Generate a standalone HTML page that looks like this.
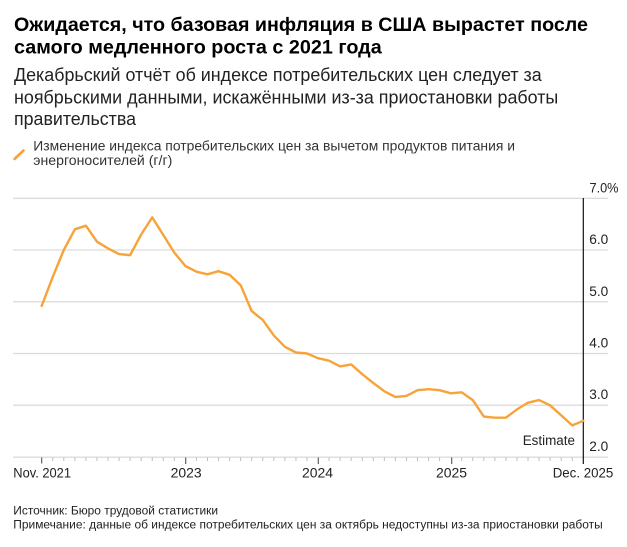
<!DOCTYPE html>
<html><head><meta charset="utf-8"><style>
html,body{margin:0;padding:0;background:#fff;}
svg{display:block;}
text{font-family:"Liberation Sans","Noto Sans CJK SC",sans-serif;}
</style></head><body>
<svg width="627" height="547" viewBox="0 0 627 547" xmlns="http://www.w3.org/2000/svg">
<rect width="627" height="547" fill="#fff"/>
<!-- Title -->
<text x="14" y="30.8" font-size="19.5" font-weight="bold" fill="#000" textLength="574" lengthAdjust="spacingAndGlyphs">Ожидается, что базовая инфляция в США вырастет после</text>
<text x="14" y="53.3" font-size="19.5" font-weight="bold" fill="#000" textLength="367.7" lengthAdjust="spacingAndGlyphs">самого медленного роста с 2021 года</text>
<!-- Subtitle -->
<text x="14" y="81" font-size="18" fill="#222" textLength="527.7" lengthAdjust="spacingAndGlyphs">Декабрьский отчёт об индексе потребительских цен следует за</text>
<text x="14" y="103.3" font-size="18" fill="#222" textLength="544.3" lengthAdjust="spacingAndGlyphs">ноябрьскими данными, искажёнными из-за приостановки работы</text>
<text x="14" y="125" font-size="18" fill="#222" textLength="122" lengthAdjust="spacingAndGlyphs">правительства</text>
<!-- Legend -->
<line x1="14.5" y1="159" x2="23.5" y2="150.5" stroke="#f7a33a" stroke-width="2.6" stroke-linecap="round"/>
<text x="33.3" y="150.7" font-size="13.5" fill="#333" textLength="481.7" lengthAdjust="spacingAndGlyphs">Изменение индекса потребительских цен за вычетом продуктов питания и</text>
<text x="33.3" y="165" font-size="13.5" fill="#333" textLength="139" lengthAdjust="spacingAndGlyphs">энергоносителей (г/г)</text>
<!-- Gridlines -->
<g stroke="#dcdcdc" stroke-width="1.3">
<line x1="13" y1="198.3" x2="608" y2="198.3"/>
<line x1="13" y1="250" x2="608" y2="250"/>
<line x1="13" y1="301.8" x2="608" y2="301.8"/>
<line x1="13" y1="353.5" x2="608" y2="353.5"/>
<line x1="13" y1="405.2" x2="608" y2="405.2"/>
<line x1="13" y1="457.2" x2="608" y2="457.2"/>
</g>
<!-- Y labels -->
<g font-size="13.5" fill="#222">
<text x="589.5" y="192.3" textLength="29" lengthAdjust="spacingAndGlyphs">7.0%</text>
<text x="589.3" y="244" textLength="19" lengthAdjust="spacingAndGlyphs">6.0</text>
<text x="589.3" y="295.8" textLength="19" lengthAdjust="spacingAndGlyphs">5.0</text>
<text x="589.3" y="347.5" textLength="19" lengthAdjust="spacingAndGlyphs">4.0</text>
<text x="589.3" y="399.2" textLength="19" lengthAdjust="spacingAndGlyphs">3.0</text>
<text x="589.3" y="450.8" textLength="19" lengthAdjust="spacingAndGlyphs">2.0</text>
</g>
<!-- Ticks -->
<g id="ticks" stroke="#bbb" stroke-width="1">
<line x1="52.75" y1="457.5" x2="52.75" y2="461"/><line x1="63.8" y1="457.5" x2="63.8" y2="461"/><line x1="74.86" y1="457.5" x2="74.86" y2="461"/><line x1="85.91" y1="457.5" x2="85.91" y2="461"/><line x1="96.97" y1="457.5" x2="96.97" y2="461"/><line x1="108.02" y1="457.5" x2="108.02" y2="461"/><line x1="119.07" y1="457.5" x2="119.07" y2="461"/><line x1="130.12" y1="457.5" x2="130.12" y2="461"/><line x1="141.18" y1="457.5" x2="141.18" y2="461"/><line x1="152.23" y1="457.5" x2="152.23" y2="461"/><line x1="163.28" y1="457.5" x2="163.28" y2="461"/><line x1="174.34" y1="457.5" x2="174.34" y2="461"/>
<line x1="196.44" y1="457.5" x2="196.44" y2="461"/><line x1="207.5" y1="457.5" x2="207.5" y2="461"/><line x1="218.55" y1="457.5" x2="218.55" y2="461"/><line x1="229.6" y1="457.5" x2="229.6" y2="461"/><line x1="240.65" y1="457.5" x2="240.65" y2="461"/><line x1="251.71" y1="457.5" x2="251.71" y2="461"/><line x1="262.76" y1="457.5" x2="262.76" y2="461"/><line x1="273.81" y1="457.5" x2="273.81" y2="461"/><line x1="284.87" y1="457.5" x2="284.87" y2="461"/><line x1="295.92" y1="457.5" x2="295.92" y2="461"/><line x1="306.97" y1="457.5" x2="306.97" y2="461"/>
<line x1="329.08" y1="457.5" x2="329.08" y2="461"/><line x1="340.13" y1="457.5" x2="340.13" y2="461"/><line x1="351.18" y1="457.5" x2="351.18" y2="461"/><line x1="362.24" y1="457.5" x2="362.24" y2="461"/><line x1="373.29" y1="457.5" x2="373.29" y2="461"/><line x1="384.34" y1="457.5" x2="384.34" y2="461"/><line x1="395.4" y1="457.5" x2="395.4" y2="461"/><line x1="406.45" y1="457.5" x2="406.45" y2="461"/><line x1="417.5" y1="457.5" x2="417.5" y2="461"/><line x1="428.56" y1="457.5" x2="428.56" y2="461"/><line x1="439.61" y1="457.5" x2="439.61" y2="461"/>
<line x1="461.71" y1="457.5" x2="461.71" y2="461"/><line x1="472.77" y1="457.5" x2="472.77" y2="461"/><line x1="483.82" y1="457.5" x2="483.82" y2="461"/><line x1="494.87" y1="457.5" x2="494.87" y2="461"/><line x1="505.93" y1="457.5" x2="505.93" y2="461"/><line x1="516.98" y1="457.5" x2="516.98" y2="461"/><line x1="528.03" y1="457.5" x2="528.03" y2="461"/><line x1="539.09" y1="457.5" x2="539.09" y2="461"/><line x1="550.14" y1="457.5" x2="550.14" y2="461"/><line x1="561.19" y1="457.5" x2="561.19" y2="461"/><line x1="572.24" y1="457.5" x2="572.24" y2="461"/>
</g>
<g stroke="#555" stroke-width="1.1">
<line x1="41.7" y1="457.5" x2="41.7" y2="463.5"/>
<line x1="185.7" y1="457.5" x2="185.7" y2="464"/>
<line x1="318.3" y1="457.5" x2="318.3" y2="464"/>
<line x1="451.7" y1="457.5" x2="451.7" y2="464"/>
</g>
<!-- Vertical divider -->
<line x1="583.3" y1="198" x2="583.3" y2="464" stroke="#111" stroke-width="1.2"/>
<!-- X labels -->
<g font-size="13.5" fill="#222">
<text x="13.3" y="477.3" textLength="57.7" lengthAdjust="spacingAndGlyphs">Nov. 2021</text>
<text x="170.7" y="477.3" textLength="31" lengthAdjust="spacingAndGlyphs">2023</text>
<text x="302" y="477.3" textLength="31" lengthAdjust="spacingAndGlyphs">2024</text>
<text x="436" y="477.3" textLength="31" lengthAdjust="spacingAndGlyphs">2025</text>
<text x="552.7" y="477.3" textLength="60.6" lengthAdjust="spacingAndGlyphs">Dec. 2025</text>
<text x="522.7" y="445" textLength="52.3" lengthAdjust="spacingAndGlyphs">Estimate</text>
</g>
<!-- Series -->
<polyline fill="none" stroke="#f7a33a" stroke-width="2.4" stroke-linejoin="round" stroke-linecap="round" points="41.7,305.9 52.75,276.9 63.8,250.0 74.86,229.3 85.91,225.7 96.97,241.7 108.02,248.4 119.07,254.1 130.12,255.2 141.18,234.5 152.23,217.4 163.28,235.0 174.34,252.6 185.39,266.0 196.44,271.7 207.5,274.3 218.55,271.2 229.6,274.8 240.65,285.2 251.71,311.1 262.76,319.9 273.81,335.4 284.87,346.8 295.92,352.5 306.97,353.5 318.03,358.2 329.08,360.7 340.13,366.4 351.18,364.4 362.24,374.2 373.29,383.0 384.34,391.3 395.4,397.0 406.45,395.9 417.5,390.2 428.56,389.2 439.61,390.2 450.66,393.3 461.71,392.3 472.77,400.1 483.82,416.6 494.87,417.7 505.93,417.7 516.98,409.4 528.03,402.7 539.09,400.1 550.14,405.3 572.24,425.4 583.3,420.8"/>
<!-- Footer -->
<text x="13.3" y="514.3" font-size="11.5" fill="#222" textLength="204.7" lengthAdjust="spacingAndGlyphs">Источник: Бюро трудовой статистики</text>
<text x="13.3" y="528.4" font-size="11.5" fill="#222" textLength="589.4" lengthAdjust="spacingAndGlyphs">Примечание: данные об индексе потребительских цен за октябрь недоступны из-за приостановки работы</text>
</svg>
</body></html>
